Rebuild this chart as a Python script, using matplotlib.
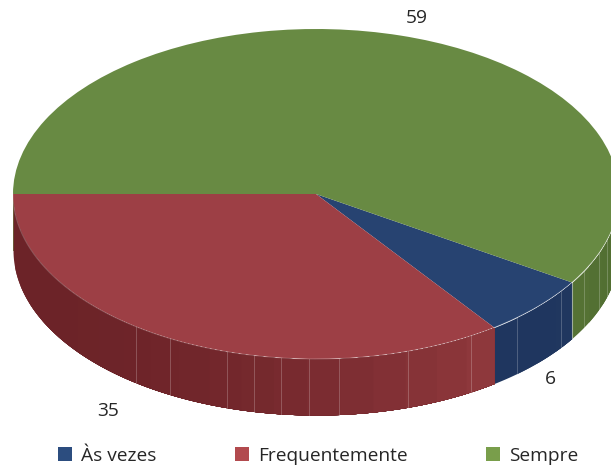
import numpy as np
import matplotlib
matplotlib.use("Agg")
import matplotlib.pyplot as plt
from matplotlib.patches import Patch
from matplotlib.colors import to_rgb

categories = ["Às vezes", "Frequentemente", "Sempre"]
values = [6, 35, 59]

top_colors = ["#274371", "#9d3f45", "#688a43"]
legend_colors = ["#2c4d7f", "#b24a4e", "#799e4b"]
side_left = ["#1f365f", "#6c2328", "#557234"]
side_right = ["#20375f", "#90393d", "#4f6c30"]

plt.rcParams["font.family"] = ["Open Sans", "DejaVu Sans"]
W, H = 611, 468
CX, CY, RX, RY, DEPTH = 316, 194, 303, 165, 56
label_pos = [(550, 379), (108, 411), (417, 18)]
facets_px = [136, 170, 227, 254, 281, 309, 339, 408, 471, 517, 561, 584, 599, 607]
FONT = 13.8

fig = plt.figure(figsize=(W / 100, H / 100), dpi=100)
ax = fig.add_axes([0, 0, 1, 1])

fractions = np.array(values) / sum(values)
start = 180 + (fractions[0] + fractions[1]) * 360  # last slice ends at the far left
wedges, _ = ax.pie(values, colors=top_colors, startangle=start, counterclock=False,
                   radius=1, wedgeprops=dict(linewidth=0))
ax.set_aspect("auto")
ax.set_xlim(-CX / RX, (W - CX) / RX)
ax.set_ylim(-(H - CY) / RY, CY / RY)
ax.set_axis_off()
d = DEPTH / RY

# slice angles, going clockwise from the start
ends = start - np.cumsum(fractions) * 360
starts = np.r_[start, ends[:-1]]


def x_of(theta):
    return np.cos(np.radians(theta))


def y_of(theta):
    return np.sin(np.radians(theta))


# visible side wall: each band runs to the end of the slice and the next paints over it
for s, e, cl, cr in zip(starts, ends, side_left, side_right):
    lo = e % 360
    hi = lo + (s - e)
    a0, a1 = max(lo, 180), min(hi, 360)
    if a1 <= a0:
        continue
    n = max(4, int((a1 - a0) / 6))
    edges = np.linspace(a0, a1, n + 1)
    c0, c1 = np.array(to_rgb(cl)), np.array(to_rgb(cr))
    x0, x1 = x_of(a0), x_of(a1)
    for i in range(n):
        th = np.linspace(edges[i], a1, 120)
        t = (x_of((edges[i] + edges[i + 1]) / 2) - x0) / (x1 - x0)
        col = c0 + (c1 - c0) * t ** 2
        ax.fill_between(x_of(th), y_of(th), y_of(th) - d, color=col, lw=0, zorder=1)

# thin sliver of the large slice at the far left
ax.plot([-1, -1], [0, -d], color=top_colors[2], lw=0.7, zorder=0.5)

# lit rim and facet lines on the side wall
th = np.linspace(180, 360, 400)
ax.plot(x_of(th), y_of(th), color="white", alpha=0.22, lw=0.7, zorder=3)
for px in facets_px:
    xf = (px - CX) / RX
    yf = -np.sqrt(1 - xf ** 2)
    ax.plot([xf, xf], [yf, yf - d], color="white", alpha=0.22, lw=0.7, zorder=2)

# boundary between blue and green wall
thb = starts[0]
ax.plot([x_of(thb)] * 2, [y_of(thb), y_of(thb) - d], color="white", alpha=0.45, lw=0.8, zorder=2)

for v, (px, py) in zip(values, label_pos):
    ax.text((px - CX) / RX, (CY - py) / RY, str(v), ha="center", va="center",
            fontsize=FONT, color="#262626", zorder=5)

handles = [Patch(facecolor=c, edgecolor="none") for c in legend_colors]
fig.legend(handles, categories, ncol=3, loc="center", frameon=False,
           bbox_to_anchor=(318 / W, 1 - 456 / H), fontsize=FONT,
           handlelength=0.73, handleheight=0.73, handletextpad=0.47,
           columnspacing=4.1, labelcolor="#262626", borderpad=0, borderaxespad=0)

fig.savefig("out.png", dpi=100, facecolor="white")
